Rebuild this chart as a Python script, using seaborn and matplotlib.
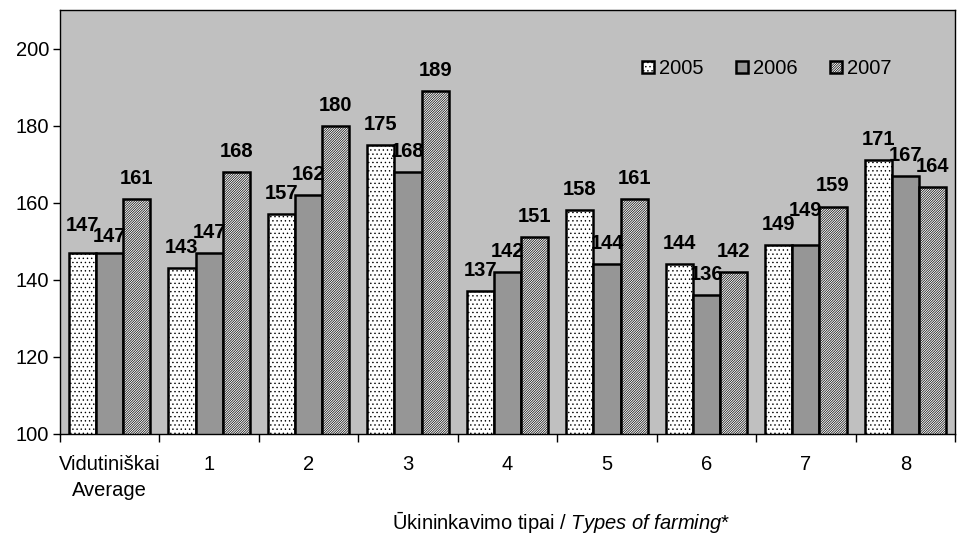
import pandas as pd
import seaborn as sns
import matplotlib.pyplot as plt
from matplotlib.ticker import FixedLocator

# data
groups = ["Vidutiniškai\nAverage", "1", "2", "3", "4", "5", "6", "7", "8"]
years = ["2005", "2006", "2007"]
v2005 = [147, 143, 157, 175, 137, 158, 144, 149, 171]
v2006 = [147, 147, 162, 168, 142, 144, 136, 149, 167]
v2007 = [161, 168, 180, 189, 151, 161, 142, 159, 164]

rows = []
for year, vals in zip(years, [v2005, v2006, v2007]):
    for g, v in zip(groups, vals):
        rows.append({"group": g, "year": year, "value": v})
df = pd.DataFrame(rows)

sns.set_style("white")
plt.rcParams["font.family"] = ["Liberation Sans", "DejaVu Sans"]
plt.rcParams["mathtext.fontset"] = "custom"
plt.rcParams["mathtext.rm"] = "Liberation Sans"
plt.rcParams["mathtext.it"] = "Liberation Sans:italic"
plt.rcParams["hatch.linewidth"] = 0.5
for k in ["text.color", "axes.labelcolor", "xtick.color", "ytick.color"]:
    plt.rcParams[k] = "black"

FS = 14.5

fig = plt.figure(figsize=(9.61, 5.35), dpi=100)
ax = fig.add_axes([60 / 961, 1 - 434 / 535, 895 / 961, 424 / 535])
ax.set_facecolor("#c0c0c0")

colors = {"2005": "#ffffff", "2006": "#969696", "2007": "#ffffff"}
hatches = {"2005": "....", "2006": "", "2007": "//////////////"}
hatch_cols = {"2005": "#707070", "2006": "black", "2007": "#303030"}

sns.barplot(data=df, x="group", y="value", hue="year", palette=colors,
            width=0.82, edgecolor="black", linewidth=1.8, ax=ax,
            saturation=1, legend=True)

# small vertical nudges (points) where Excel staggered overlapping labels
nudges = {(0, 0): 5, (0, 1): -3, (7, 1): 10}

for j, (cont, year) in enumerate(zip(ax.containers, years)):
    for bar in cont:
        bar.set_hatch(hatches[year])
        if hasattr(bar, "set_hatchcolor"):
            bar.set_hatchcolor(hatch_cols[year])
    texts = ax.bar_label(cont, fmt="%d", padding=8, fontsize=FS, fontweight="bold")
    for i, t in enumerate(texts):
        if (i, j) in nudges:
            x, y = t.xyann
            t.xyann = (x, y + nudges[(i, j)])

leg = ax.get_legend()
handles = leg.legend_handles
for h, year in zip(handles, years):
    h.set_hatch(hatches[year])
    h.set_edgecolor("black")
    h.set_linewidth(1.8)
    if hasattr(h, "set_hatchcolor"):
        h.set_hatchcolor(hatch_cols[year])
ax.legend(handles=handles, labels=years, ncol=3, frameon=False,
          loc="center", bbox_to_anchor=(0.79, 0.862), fontsize=FS,
          handlelength=0.6, handleheight=0.6, handletextpad=0.25,
          columnspacing=1.6)

ax.set_ylim(100, 210)
ax.set_yticks([100, 120, 140, 160, 180, 200])
ax.set_xlim(-0.5, 8.5)
ax.tick_params(axis="y", labelsize=FS, length=5, direction="out", left=True,
               width=1, pad=3)
ax.tick_params(axis="x", which="major", labelsize=FS, length=0, pad=15)
for lbl in ax.get_xticklabels():
    lbl.set_linespacing(1.5)
ax.xaxis.set_minor_locator(FixedLocator([i - 0.5 for i in range(10)]))
ax.tick_params(axis="x", which="minor", length=6, direction="out", bottom=True, width=1)

for s in ax.spines.values():
    s.set_color("black")
    s.set_linewidth(1)

ax.set_xlabel("")
ax.set_ylabel("")
fig.text(561 / 961, 1 - 522 / 535,
         r"Ūkininkavimo tipai / $\it{Types\ of\ farming}$*",
         ha="center", va="center", fontsize=FS)

fig.savefig("out.png", dpi=100, facecolor="white")
